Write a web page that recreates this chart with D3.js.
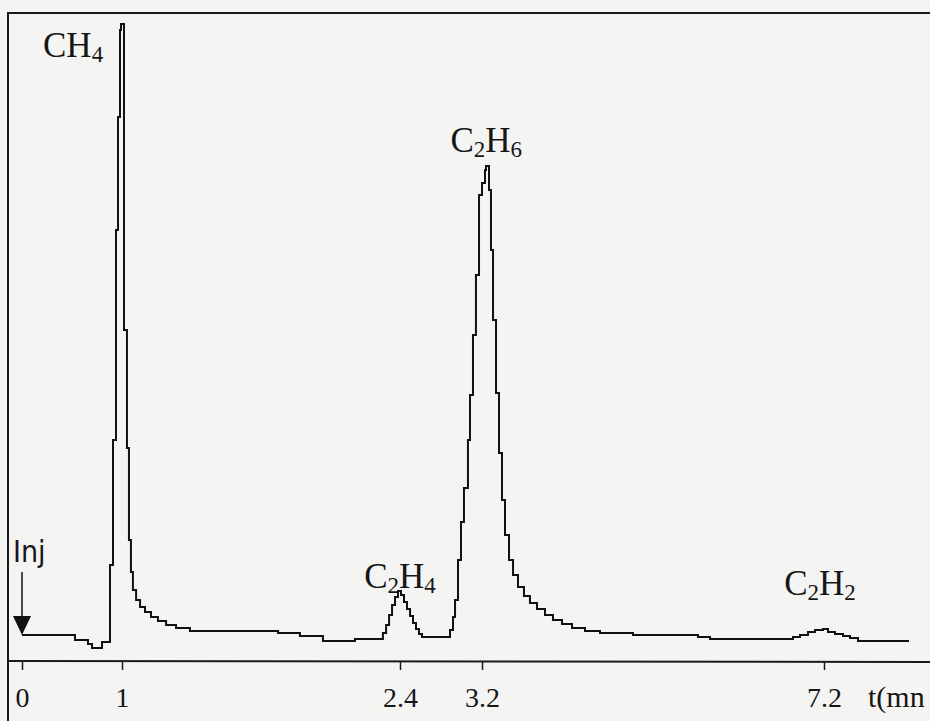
<!DOCTYPE html>
<html>
<head>
<meta charset="utf-8">
<script src="https://cdn.jsdelivr.net/npm/d3@7"></script>
<style>
body{margin:0;background:#f4f4f2;}
svg{display:block;}
text{font-family:"Liberation Serif","Times New Roman",serif;fill:#161616;}
</style>
</head>
<body>
<svg id="chart"></svg>
<script>
// retention time (min) and detector signal (a.u.)
var times=[0.00,0.53,0.66,0.70,0.80,0.88,0.91,0.94,0.96,0.98,0.99,
  1.010,1.025,1.035,1.045,1.055,1.071,1.091,1.116,1.146,1.181,1.222,1.272,1.342,
  1.786,1.896,2.012,2.173,2.314,2.330,2.345,2.360,2.375,2.390,
  2.410,2.439,2.468,2.498,2.527,2.556,2.585,2.615,2.888,2.917,2.937,2.966,2.995,
  3.024,3.063,3.083,3.112,3.141,3.171,3.200,3.235,3.247,3.282,3.305,3.329,3.364,
  3.399,3.434,3.469,3.516,3.563,3.621,3.691,3.761,3.843,3.937,4.030,4.136,4.253,
  4.405,4.580,4.966,5.726,5.867,6.837,6.919,7.013,7.095,7.188,7.247,7.329,7.422,
  7.504,7.598,8.194];
var signal=[2.50,1.67,1.00,0.33,1.33,14.17,35.0,70.0,88.83,103.33,104.33,
  53.33,33.67,18.33,13.0,10.0,8.33,7.17,6.33,5.5,4.83,4.17,3.67,3.17,
  2.83,2.33,1.5,1.83,2.83,4.17,5.83,7.5,8.83,9.83,
  9.17,8.0,6.83,5.67,4.5,3.5,2.67,2.17,3.33,5.5,8.33,15.0,21.33,
  27.0,35.0,42.5,52.5,62.5,75.83,77.83,80.0,80.67,76.67,66.67,55.0,42.83,
  32.83,25.0,19.17,15.0,12.5,10.5,9.0,7.83,6.83,5.83,5.0,4.33,3.67,
  3.17,2.83,2.5,2.17,1.83,2.17,2.5,3.0,3.33,3.5,3.0,2.67,2.33,
  2.0,1.5,1.5];

var tickTimes=[0,1,2.4,3.2,7.2];
var tickLabels=["0","1","2.4","3.2","7.2"];

var peakNames=["CH4","C2H4","C2H6","C2H2"];
var peakTimes=[1.0,2.4,3.25,7.2];

var screen={width:930,height:721};

var svg=d3.select("#chart")
  .attr("width",screen.width)
  .attr("height",screen.height);

// time axis of the recorder is not linear, so a piecewise scale
var xScale=d3.scaleLinear()
  .domain(tickTimes)
  .range([22,122,400,482,824]);
var yScale=d3.scaleLinear()
  .domain([0,100])
  .range([650,50]);

var axisY=661;

// frame (top and left)
svg.append("path")
  .attr("d","M8,"+screen.height+"V13H"+screen.width)
  .attr("fill","none")
  .attr("stroke","#1a1a1a")
  .attr("stroke-width",2);

// baseline axis
svg.append("line")
  .attr("x1",8).attr("x2",screen.width)
  .attr("y1",axisY).attr("y2",axisY+1)
  .attr("stroke","#1a1a1a")
  .attr("stroke-width",2);

var xAxis=d3.axisBottom(xScale)
  .tickValues(tickTimes)
  .tickFormat(function(d,i){return tickLabels[i];})
  .tickSize(9)
  .tickPadding(17);

var gx=svg.append("g")
  .attr("transform","translate(0,"+axisY+")")
  .call(xAxis);
gx.select(".domain").remove();
gx.selectAll(".tick line").attr("stroke","#1a1a1a").attr("stroke-width",1.5);
gx.selectAll(".tick text")
  .attr("fill","#161616")
  .style("font-family","'Liberation Serif',serif")
  .style("font-size","28px");

// unit label, shown cut as in the scan
svg.append("text")
  .attr("x",868)
  .attr("y",707)
  .style("font-size","30px")
  .text("t(mn");

// the trace
var pts=times.map(function(t,i){return [t,signal[i]];});
var line=d3.line()
  .x(function(d){return xScale(d[0]);})
  .y(function(d){return yScale(d[1]);})
  .curve(d3.curveStepAfter);

svg.append("path")
  .datum(pts)
  .attr("d",line)
  .attr("fill","none")
  .attr("stroke","#111")
  .attr("stroke-width",2)
  .attr("stroke-linejoin","miter");

// injection marker
var x0=xScale(0);
svg.append("line")
  .attr("x1",x0).attr("x2",x0)
  .attr("y1",572).attr("y2",618)
  .attr("stroke","#111").attr("stroke-width",1.5);
svg.append("path")
  .attr("d","M"+(x0-9)+",616L"+(x0+9)+",616L"+x0+","+yScale(signal[0])+"Z")
  .attr("fill","#111");
svg.append("text")
  .attr("x",13)
  .attr("y",562)
  .style("font-family","'Liberation Sans Narrow','DejaVu Sans Condensed',sans-serif")
  .style("font-size","30px")
  .text("Inj");

// peak labels, digits as subscripts
var labelPos=[
  {dx:-79,y:57,anchor:"start"},
  {dx:0,y:588,anchor:"middle"},
  {dx:0,y:152,anchor:"middle"},
  {dx:-4,y:595,anchor:"middle"}
];

peakNames.forEach(function(name,i){
  var p=labelPos[i];
  var t=svg.append("text")
    .attr("x",xScale(peakTimes[i])+p.dx)
    .attr("y",p.y)
    .attr("text-anchor",p.anchor)
    .style("font-size","35px");
  var low=false;
  name.split(/(\d)/).forEach(function(part){
    if(part==="")return;
    var isDigit=/\d/.test(part);
    var span=t.append("tspan").text(part);
    if(isDigit){
      span.attr("dy",5).style("font-size","23px");
      low=true;
    }else if(low){
      span.attr("dy",-5);
      low=false;
    }
  });
});
</script>
</body>
</html>
